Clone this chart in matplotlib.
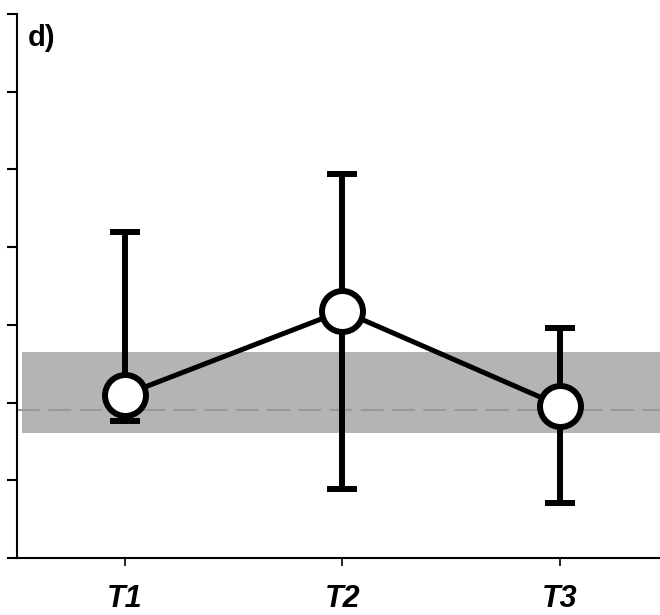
import matplotlib
matplotlib.use("Agg")
import matplotlib.pyplot as plt
import numpy as np

plt.rcParams['font.family'] = ['Liberation Sans', 'DejaVu Sans']

# time points and group means with error limits
labels = ['T1', 'T2', 'T3']
means = [2.10, 3.18, 1.96]
upper = [4.20, 4.94, 2.96]
lower = [1.76, 0.89, 0.71]

# reference range (shaded) and reference mean (dashed)
ref_low, ref_high = 1.61, 2.65
ref_mean = 1.90

x = np.arange(1, len(labels) + 1)
yerr = np.array([np.array(means) - np.array(lower), np.array(upper) - np.array(means)])

fig = plt.figure(figsize=(6.6, 6.15), dpi=100)
ax = fig.add_axes([17 / 660, 57 / 615, 1 - 17 / 660, (558 - 14) / 615])

ax.set_xlim(0.505, 3.46)
ax.set_ylim(0, 7)

ax.fill_between([0.528, 3.46], ref_low, ref_high, color='#b4b4b4', lw=0, zorder=1)
ax.axhline(ref_mean, color='#999999', lw=1.5, dashes=(11, 4), zorder=2)

ax.errorbar(x, means, yerr=yerr, fmt='none', ecolor='black', elinewidth=4.3,
            capsize=10.5, capthick=4.3, zorder=3)
ax.plot(x, means, color='black', lw=3.6, zorder=4, solid_capstyle='round')
ax.plot(x, means, 'o', ms=29.5, mfc='white', mec='black', mew=4.3, zorder=5)

for sp in ['top', 'right']:
    ax.spines[sp].set_visible(False)
ax.spines['left'].set_linewidth(1.5)
ax.spines['bottom'].set_linewidth(1.5)

ax.set_yticks(np.arange(0, 8))
ax.set_yticklabels([])
ax.tick_params(axis='y', direction='out', length=7, width=1.5)
ax.set_xticks(x)
ax.set_xticklabels(labels, fontsize=22, fontstyle='italic', fontweight='bold')
ax.tick_params(axis='x', direction='out', length=6, width=1.2, pad=13)

fig.text(28 / 660, 1 - 24 / 615, 'd)', fontsize=21, fontweight='bold', va='top', ha='left')

fig.savefig('out.png', dpi=100)
